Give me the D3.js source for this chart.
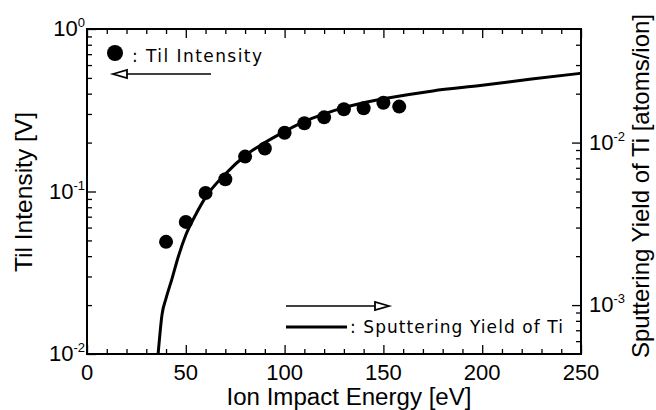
<!DOCTYPE html>
<html>
<head>
<meta charset="utf-8">
<script src="https://cdn.jsdelivr.net/npm/d3@7"></script>
<style>
  body { margin: 0; background: #fff; }
  svg text { font-family: "Liberation Sans", Arial, sans-serif; fill: #000; }
  .legend-text { font-family: "DejaVu Sans", sans-serif; }
</style>
</head>
<body>
<div id="chart"></div>
<script>
// measured Til intensity (left axis)
const energyPts = [40, 50, 60, 70, 80, 90, 100, 110, 120, 130, 140, 150, 158];
const tilIntensity = [0.049, 0.065, 0.098, 0.119, 0.164, 0.184, 0.230, 0.263, 0.286, 0.321, 0.325, 0.352, 0.333];

// sputtering yield of Ti (right axis)
const curveEnergy = [36, 38, 40, 43, 46, 50, 55, 60, 70, 80, 90, 100, 110, 120, 130, 140, 150, 175, 200, 225, 250];
const sputterYield = [5.0e-4, 8.8e-4, 1.1e-3, 1.45e-3, 1.95e-3, 2.7e-3, 3.6e-3, 4.6e-3, 6.4e-3, 8.3e-3, 1.0e-2,
  1.17e-2, 1.35e-2, 1.5e-2, 1.64e-2, 1.76e-2, 1.86e-2, 2.08e-2, 2.25e-2, 2.46e-2, 2.67e-2];

const xTicks = [0, 50, 100, 150, 200, 250];
const leftTicks = [{ v: 1e-2, e: "-2" }, { v: 1e-1, e: "-1" }, { v: 1, e: "0" }];
const rightTicks = [{ v: 1e-3, e: "-3" }, { v: 1e-2, e: "-2" }];

const W = 656, H = 410;
const margin = { top: 29, right: 75, bottom: 56, left: 87 };
const width = W - margin.left - margin.right;
const height = H - margin.top - margin.bottom;

const svg = d3.select("#chart").append("svg")
  .attr("width", W).attr("height", H);

const g = svg.append("g")
  .attr("transform", `translate(${margin.left},${margin.top})`);

const xScale = d3.scaleLinear().domain([0, 250]).range([0, width]);
const yLeft = d3.scaleLog().domain([1e-2, 1]).range([height, 0]);
const yRight = d3.scaleLog().domain([5e-4, 5e-2]).range([height, 0]);

// minor tick values
const xMinor = d3.range(0, 251, 10).filter(d => d % 50 !== 0);
const leftMinor = [];
[1e-2, 1e-1].forEach(dec => { for (let k = 2; k <= 9; k++) leftMinor.push(k * dec); });
const rightMinor = [];
[1e-4, 1e-3, 1e-2].forEach(dec => { for (let k = 2; k <= 9; k++) rightMinor.push(k * dec); });
const rightMinorIn = rightMinor.filter(d => d > 5e-4 * 1.001 && d < 5e-2 * 0.999);

function tickAxis(axisFn, scale, values, size) {
  return axisFn(scale).tickValues(values).tickSizeInner(size).tickSizeOuter(0).tickFormat("");
}

// bottom / top ticks (pointing inside)
g.append("g").attr("transform", `translate(0,${height})`)
  .call(tickAxis(d3.axisBottom, xScale, xTicks, -9));
g.append("g").attr("transform", `translate(0,${height})`)
  .call(tickAxis(d3.axisBottom, xScale, xMinor, -5));
g.append("g").call(tickAxis(d3.axisTop, xScale, xTicks, -9));
g.append("g").call(tickAxis(d3.axisTop, xScale, xMinor, -5));

// left ticks
g.append("g").call(tickAxis(d3.axisLeft, yLeft, leftTicks.map(d => d.v), -9));
g.append("g").call(tickAxis(d3.axisLeft, yLeft, leftMinor, -5));

// right ticks
g.append("g").attr("transform", `translate(${width},0)`)
  .call(tickAxis(d3.axisRight, yRight, rightTicks.map(d => d.v), -9));
g.append("g").attr("transform", `translate(${width},0)`)
  .call(tickAxis(d3.axisRight, yRight, rightMinorIn, -5));

g.selectAll(".domain").remove();
g.selectAll(".tick line").attr("stroke", "#000").attr("stroke-width", 1.3);

// frame
g.append("rect")
  .attr("width", width).attr("height", height)
  .attr("fill", "none").attr("stroke", "#000").attr("stroke-width", 2);

// x tick labels
g.append("g").selectAll("text")
  .data(xTicks).join("text")
  .attr("x", d => xScale(d))
  .attr("y", height + 26)
  .attr("text-anchor", "middle")
  .style("font-size", "22px")
  .text(d => d);

// left tick labels
const lt = g.append("g").selectAll("text")
  .data(leftTicks).join("text")
  .attr("x", -2)
  .attr("y", d => yLeft(d.v) + 7)
  .attr("text-anchor", "end")
  .style("font-size", "22px");
lt.append("tspan").text("10");
lt.append("tspan").attr("dy", -9).style("font-size", "13px").text(d => d.e);

// right tick labels
const rt = g.append("g").selectAll("text")
  .data(rightTicks).join("text")
  .attr("x", width + 8)
  .attr("y", d => yRight(d.v) + 7)
  .attr("text-anchor", "start")
  .style("font-size", "22px");
rt.append("tspan").text("10");
rt.append("tspan").attr("dy", -9).style("font-size", "13px").text(d => d.e);

// axis titles
svg.append("text")
  .attr("x", 349).attr("y", 405)
  .attr("text-anchor", "middle")
  .attr("textLength", 245).attr("lengthAdjust", "spacingAndGlyphs")
  .style("font-size", "23px")
  .text("Ion Impact Energy [eV]");

svg.append("text")
  .attr("transform", "translate(32,192) rotate(-90)")
  .attr("text-anchor", "middle")
  .attr("textLength", 160).attr("lengthAdjust", "spacingAndGlyphs")
  .style("font-size", "24px")
  .text("Til Intensity [V]");

svg.append("text")
  .attr("transform", "translate(649,186) rotate(-90)")
  .attr("text-anchor", "middle")
  .attr("textLength", 344).attr("lengthAdjust", "spacingAndGlyphs")
  .style("font-size", "24px")
  .text("Sputtering Yield of Ti [atoms/ion]");

// plot area clip
svg.append("defs").append("clipPath").attr("id", "clip")
  .append("rect").attr("width", width).attr("height", height);

// sputtering yield curve
const curveData = curveEnergy.map((e, i) => ({ e, y: sputterYield[i] }));
g.append("path")
  .datum(curveData)
  .attr("clip-path", "url(#clip)")
  .attr("fill", "none")
  .attr("stroke", "#000")
  .attr("stroke-width", 3)
  .attr("d", d3.line()
    .x(d => xScale(d.e))
    .y(d => yRight(d.y))
    .curve(d3.curveMonotoneX));

// Til intensity points
g.append("g").selectAll("circle")
  .data(energyPts.map((e, i) => ({ e, v: tilIntensity[i] })))
  .join("circle")
  .attr("cx", d => xScale(d.e))
  .attr("cy", d => yLeft(d.v))
  .attr("r", 7)
  .attr("fill", "#000");

// legends
const arrowHead = (x, y, dir) => {
  const l = 14, w = 4;
  return `M${x},${y}L${x - dir * l},${y - w}L${x - dir * l},${y + w}Z`;
};

g.append("circle")
  .attr("cx", 115 - margin.left).attr("cy", 53 - margin.top)
  .attr("r", 8).attr("fill", "#000");
g.append("text").attr("class", "legend-text")
  .attr("x", 132 - margin.left).attr("y", 62 - margin.top)
  .attr("textLength", 130).attr("lengthAdjust", "spacing")
  .style("font-size", "17px")
  .text(": Til Intensity");

const ay1 = 74 - margin.top;
g.append("line")
  .attr("x1", 113 - margin.left).attr("x2", 211 - margin.left)
  .attr("y1", ay1).attr("y2", ay1)
  .attr("stroke", "#000").attr("stroke-width", 1.3);
g.append("path")
  .attr("d", arrowHead(113 - margin.left, ay1, -1))
  .attr("fill", "#fff").attr("stroke", "#000").attr("stroke-width", 1.8);

const ay2 = 306 - margin.top;
g.append("line")
  .attr("x1", 286 - margin.left).attr("x2", 389 - margin.left)
  .attr("y1", ay2).attr("y2", ay2)
  .attr("stroke", "#000").attr("stroke-width", 1.3);
g.append("path")
  .attr("d", arrowHead(389 - margin.left, ay2, 1))
  .attr("fill", "#fff").attr("stroke", "#000").attr("stroke-width", 1.8);

const ly = 327 - margin.top;
g.append("line")
  .attr("x1", 286 - margin.left).attr("x2", 347 - margin.left)
  .attr("y1", ly).attr("y2", ly)
  .attr("stroke", "#000").attr("stroke-width", 3);
g.append("text").attr("class", "legend-text")
  .attr("x", 350 - margin.left).attr("y", 333 - margin.top)
  .attr("textLength", 213).attr("lengthAdjust", "spacing")
  .style("font-size", "17px")
  .text(": Sputtering Yield of Ti");
</script>
</body>
</html>
